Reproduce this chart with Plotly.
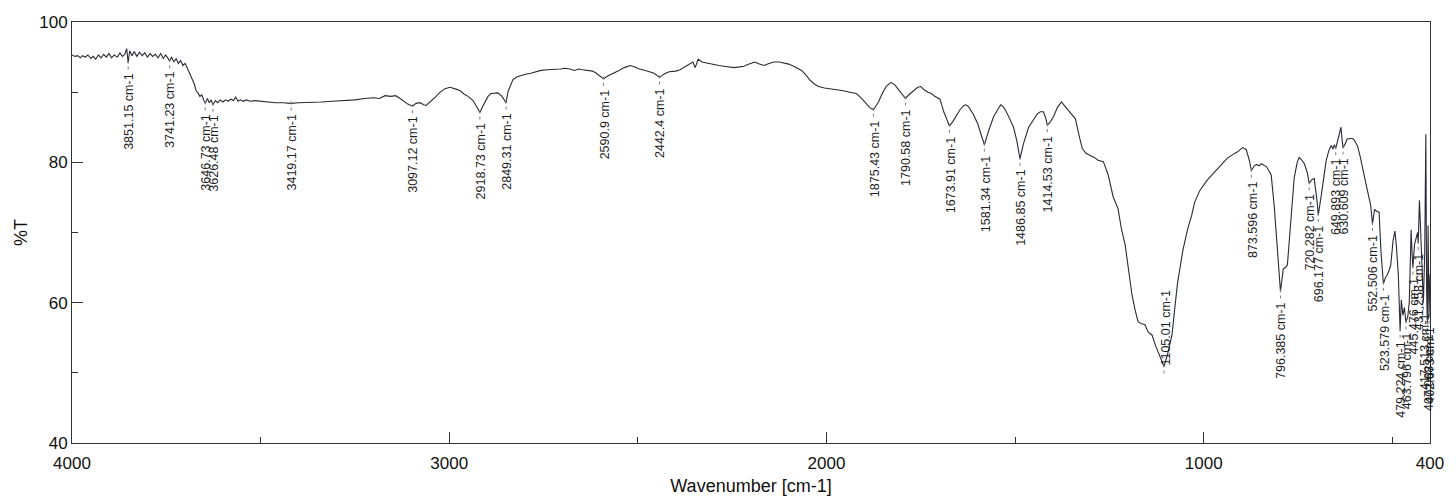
import numpy as np
import plotly.graph_objects as go

# ---- spectrum data (wavenumber cm-1, %T) ----
wavenumber = [
    4000, 3992, 3985, 3978, 3972, 3965, 3958, 3950, 3944, 3937, 3930, 3923, 3916, 3909, 3902, 3895,
    3888, 3880, 3873, 3866, 3860, 3855, 3851.15, 3847, 3841, 3835, 3828, 3821, 3814, 3807, 3800, 3793,
    3786, 3779, 3772, 3765, 3758, 3752, 3746, 3741.23, 3736, 3730, 3724, 3718, 3712, 3706, 3700, 3694,
    3688, 3682, 3676, 3671, 3666, 3661, 3656, 3651, 3646.73, 3641, 3636, 3631, 3626.48, 3620, 3614, 3607,
    3600, 3593, 3586, 3579, 3572, 3566, 3560, 3553, 3546, 3538, 3528, 3515, 3500, 3480, 3460, 3440,
    3419.17, 3400, 3370, 3340, 3310, 3280, 3250, 3225, 3200, 3185, 3170, 3155, 3142, 3130, 3121, 3110,
    3097.12, 3088, 3077, 3068, 3061, 3050, 3037, 3024, 3011, 2998, 2990, 2980, 2971, 2960, 2950, 2937,
    2928, 2918.73, 2911, 2905, 2897, 2889, 2880, 2871, 2860, 2849.31, 2844, 2838, 2831, 2820, 2810, 2795,
    2784, 2770, 2757, 2740, 2720, 2705, 2694, 2680, 2668, 2657, 2647, 2633, 2620, 2610, 2602, 2590.9,
    2580, 2570, 2562, 2550, 2536, 2520, 2508, 2496, 2480, 2468, 2457, 2442.4, 2430, 2417, 2400, 2388,
    2375, 2365, 2354, 2348, 2340, 2330, 2315, 2298, 2285, 2272, 2258, 2245, 2230, 2219, 2205, 2190,
    2178, 2166, 2152, 2140, 2125, 2113, 2100, 2087, 2076, 2066, 2055, 2045, 2033, 2021, 2005, 1992,
    1975, 1955, 1938, 1921, 1908, 1895, 1885, 1875.43, 1862, 1852, 1842, 1829, 1818, 1808, 1799, 1790.58,
    1780, 1768, 1758, 1750, 1740, 1731, 1722, 1715, 1707, 1699, 1689, 1680, 1673.91, 1665, 1657, 1646,
    1636, 1630, 1623, 1611, 1599, 1590, 1581.34, 1570, 1557, 1545, 1538, 1531, 1525, 1515, 1504, 1495,
    1486.85, 1478, 1464, 1452, 1441, 1433, 1425, 1419, 1414.53, 1406, 1398, 1388, 1377, 1368, 1359, 1350,
    1340, 1331, 1322, 1312, 1301, 1290, 1280, 1266, 1253, 1240, 1227, 1218, 1208, 1199, 1190, 1182,
    1174, 1165, 1156, 1147, 1137, 1127, 1116, 1105.01, 1095, 1084, 1076, 1069, 1055, 1042, 1032, 1024,
    1010, 990, 975, 963, 950, 937, 923, 910, 897, 887, 879, 873.596, 866, 860, 853, 847,
    840, 834, 827, 821, 813, 805, 796.385, 789, 783, 778, 770, 760, 752, 747, 740, 733,
    725, 720.282, 714, 707, 699, 696.177, 689, 683, 675, 668, 662, 657, 654, 649.893, 645, 640,
    636, 633, 630.609, 625, 620, 612, 605, 600, 592, 585, 577, 570, 563, 557, 552.506, 547,
    541, 535, 530, 523.579, 518, 514, 509, 504, 498, 493, 489, 484, 479.224, 476, 472, 468,
    463.796, 459, 455, 450, 447, 445.476, 441, 437, 433, 431.258, 428, 425, 421, 417.513, 414, 411,
    409, 407.068, 405, 402.673, 400,
]
transmittance = [
    95.3, 95.1, 95.2, 94.9, 95.2, 95.0, 95.3, 94.8, 95.1, 94.7, 95.3, 94.9, 95.4, 95.0, 95.5, 94.9,
    95.3, 95.0, 95.6, 95.1, 95.4, 96.2, 94.2, 95.9, 95.2, 95.8, 95.1, 95.7, 95.2, 95.6, 95.0, 95.5,
    95.1, 95.4, 94.9, 95.5, 94.8, 95.3, 94.9, 94.4, 95.0, 94.3, 94.8, 94.1, 94.5, 93.8, 94.1, 93.4,
    92.6, 91.9, 91.2, 90.2, 89.9, 89.4, 89.6, 88.9, 88.4, 89.1, 88.5, 88.9, 88.2, 88.8, 88.5, 88.9,
    88.6, 88.9, 88.7, 89.0, 88.8, 89.3, 88.7, 88.9, 88.7, 88.9, 88.7, 88.8, 88.7, 88.6, 88.5, 88.5,
    88.4, 88.5, 88.5, 88.6, 88.7, 88.8, 88.9, 89.1, 89.2, 89.1, 89.5, 89.4, 89.5, 89.1, 88.7, 88.3,
    88.0, 88.4, 88.5, 88.2, 88.1, 88.6, 89.3, 90.0, 90.5, 90.7, 90.6, 90.4, 90.2, 89.7, 89.4, 88.8,
    88.0, 87.1, 88.0, 88.7, 89.4, 89.8, 89.9, 89.9, 89.4, 88.5, 90.1, 91.0, 91.8, 92.2, 92.4, 92.6,
    92.7, 92.9, 93.1, 93.2, 93.2, 93.3, 93.4, 93.3, 93.1, 93.3, 93.2, 93.1, 93.0, 92.7, 92.4, 91.9,
    92.3, 92.6, 92.8, 93.1, 93.5, 93.8, 93.6, 93.3, 93.1, 92.9, 92.7, 92.1, 92.6, 92.9, 93.0, 93.2,
    93.6, 93.9, 94.3, 93.5, 94.7, 94.3, 94.1, 93.9, 93.8, 93.7, 93.6, 93.5, 93.6, 93.7, 94.0, 94.3,
    94.0, 93.8, 94.1, 94.3, 94.3, 94.2, 94.0, 93.7, 93.4, 93.1, 92.5, 91.8, 91.2, 90.8, 90.6, 90.5,
    90.4, 90.2, 90.0, 89.8, 89.2, 88.4, 87.8, 87.5, 88.6, 89.8, 90.8, 91.4, 91.0, 90.3, 89.6, 89.1,
    89.7, 90.2, 90.7, 90.8, 90.3, 90.0, 89.8, 89.5, 89.3, 89.0, 87.2, 85.9, 85.2, 85.8, 86.5, 87.5,
    88.1, 88.2, 87.9, 86.9, 85.5, 84.0, 82.5, 84.5, 86.5, 87.6, 88.2, 87.9, 87.4, 86.3, 85.0, 83.0,
    80.5, 82.6, 85.0, 86.0, 86.9, 87.2, 87.2, 86.4, 85.3, 85.8, 86.5, 87.8, 88.6, 88.0, 87.4, 86.8,
    86.2, 84.0, 82.0, 81.3, 81.0, 80.7, 80.3, 80.1, 78.2, 75.1, 73.4, 70.5, 68.2, 64.5, 61.1, 59.0,
    57.3, 57.0, 56.9, 55.8, 55.4, 53.8, 52.2, 50.9, 52.8, 55.4, 59.5, 62.9, 67.5, 70.6, 72.4, 74.3,
    76.0, 77.5, 78.4, 79.1, 79.9, 80.6, 81.1, 81.5, 82.1, 81.8, 80.3, 78.8, 79.5, 79.7, 79.5, 79.8,
    79.6, 79.4, 78.8, 78.2, 73.8, 67.8, 61.6, 64.8, 65.0, 65.4, 70.8, 77.8, 80.0, 80.7, 80.3, 79.8,
    78.5, 77.0, 77.5, 77.7, 74.3, 72.5, 75.0, 77.0, 80.3, 81.7, 82.4, 81.9, 82.5, 82.0, 83.2, 84.2,
    85.0, 83.2, 82.1, 82.6, 83.3, 83.4, 83.4, 83.1, 82.3, 80.8, 79.0, 77.0, 75.3, 73.8, 71.2, 73.3,
    73.0, 72.9, 67.3, 62.7, 63.6, 63.9, 64.5, 65.4, 68.8, 70.2, 68.0, 64.0, 56.0, 60.4, 58.2, 59.3,
    57.2, 58.0, 60.0, 70.4, 66.5, 65.0, 68.3, 69.4, 70.0, 68.5, 74.6, 70.5, 66.0, 60.0, 67.0, 84.0,
    62.0, 57.0, 71.0, 58.0, 64.0,
]

# ---- peak labels ----
peak_wavenumber = [
    3851.15, 3741.23, 3646.73, 3626.48, 3419.17, 3097.12, 2918.73, 2849.31, 2590.9, 2442.4,
    1875.43, 1790.58, 1673.91, 1581.34, 1486.85, 1414.53, 1105.01, 873.596, 796.385, 720.282,
    696.177, 649.893, 630.609, 552.506, 523.579, 479.224, 463.796, 445.476, 431.258, 417.513,
    407.068, 402.673,
]
peak_text = [
    "3851.15 cm-1", "3741.23 cm-1", "3646.73 cm-1", "3626.48 cm-1", "3419.17 cm-1",
    "3097.12 cm-1", "2918.73 cm-1", "2849.31 cm-1", "2590.9 cm-1", "2442.4 cm-1",
    "1875.43 cm-1", "1790.58 cm-1", "1673.91 cm-1", "1581.34 cm-1", "1486.85 cm-1",
    "1414.53 cm-1", "1105.01 cm-1", "873.596 cm-1", "796.385 cm-1", "720.282 cm-1",
    "696.177 cm-1", "649.893 cm-1", "630.609 cm-1", "552.506 cm-1", "523.579 cm-1",
    "479.224 cm-1", "463.796 cm-1", "445.476 cm-1", "431.258 cm-1", "417.513 cm-1",
    "407.068 cm-1", "402.673 cm-1",
]
labels_above = ["1105.01 cm-1"]

x_tick_vals = [4000, 3000, 2000, 1000, 400]
x_tick_text = ["4000", "3000", "2000", "1000", "400"]
x_minor_vals = [3500, 2500, 1500, 500]
y_tick_vals = [40, 60, 80, 100]
y_minor_vals = [50, 70, 90]

W, H = 1456, 504
M = dict(l=72, r=20, t=22, b=57)
FONT = "Liberation Sans, Arial, sans-serif"
INK = "#2a2a35"

y_range = [40, 100]
px_per_unit = (H - M["t"] - M["b"]) / (y_range[1] - y_range[0])
gap_px = 9

wn_sorted = np.array(wavenumber)[::-1]
tr_sorted = np.array(transmittance)[::-1]
peak_T = np.interp(peak_wavenumber, wn_sorted, tr_sorted)

fig = go.Figure()
fig.add_trace(go.Scatter(
    x=wavenumber, y=transmittance, mode="lines",
    line=dict(color=INK, width=1.1), hoverinfo="x+y", showlegend=False,
))

# dotted leader lines below each labelled peak
lx, ly = [], []
for p, t in zip(peak_wavenumber, peak_T):
    lx += [p, p, None]
    ly += [t + 2 / px_per_unit, t - gap_px / px_per_unit, None]
fig.add_trace(go.Scatter(
    x=lx, y=ly, mode="lines", line=dict(color="#7a7f7a", width=1, dash="dot"),
    hoverinfo="skip", showlegend=False,
))

for p, t, txt in zip(peak_wavenumber, peak_T, peak_text):
    above = txt in labels_above
    fig.add_annotation(
        x=p, y=t, xref="x", yref="y", text=txt, showarrow=False, textangle=-90,
        xanchor="center", yanchor="bottom" if above else "top",
        yshift=-1 if above else -gap_px, xshift=1,
        font=dict(family=FONT, size=12.5, color="#1e1e1e"),
    )

axis_common = dict(
    showline=True, linecolor="#333", linewidth=1, mirror=True,
    showgrid=False, zeroline=False, ticks="inside", ticklen=11, tickcolor="#333",
    tickfont=dict(family=FONT, size=17, color="#111"),
)
fig.update_xaxes(
    range=[4000, 400], tickmode="array", tickvals=x_tick_vals, ticktext=x_tick_text,
    ticklabelstandoff=5,
    minor=dict(tickmode="array", tickvals=x_minor_vals, ticks="inside", ticklen=6, tickcolor="#333"),
    title=dict(text="Wavenumber [cm-1]", font=dict(family=FONT, size=18, color="#111"), standoff=6),
    **axis_common,
)
fig.update_yaxes(
    range=y_range, tickmode="array", tickvals=y_tick_vals,
    minor=dict(tickmode="array", tickvals=y_minor_vals, ticks="inside", ticklen=6, tickcolor="#333"),
    title=dict(text="%T", font=dict(family=FONT, size=18, color="#111"), standoff=6),
    **axis_common,
)
fig.update_layout(
    width=W, height=H, margin=M, paper_bgcolor="white", plot_bgcolor="white",
    font=dict(family=FONT, color="#111"),
)
fig.write_html("out.html")
